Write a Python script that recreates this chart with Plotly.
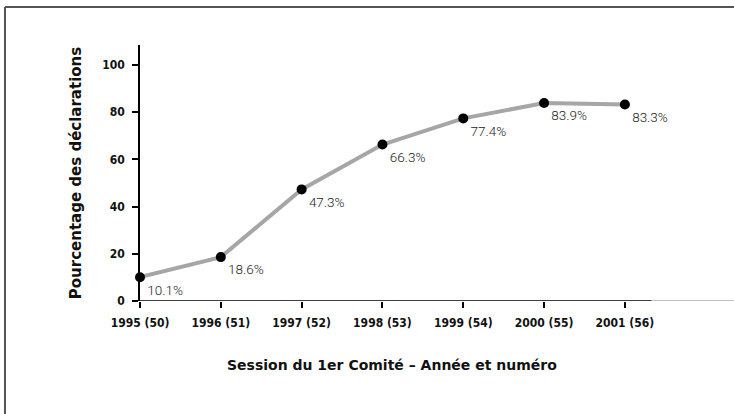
import plotly.graph_objects as go

categories = ["1995 (50)", "1996 (51)", "1997 (52)", "1998 (53)", "1999 (54)", "2000 (55)", "2001 (56)"]
values = [10.1, 18.6, 47.3, 66.3, 77.4, 83.9, 83.3]
y_ticks = [0, 20, 40, 60, 80, 100]

x_idx = list(range(len(categories)))
labels = [f"{v}%" for v in values]

fig = go.Figure()
fig.add_trace(go.Scatter(
    x=x_idx, y=values, mode="lines+markers+text",
    line=dict(color="#a6a6a6", width=4),
    marker=dict(color="black", size=10),
    text=labels, textposition="bottom right",
    textfont=dict(family="Roboto", size=13.5, color="#222222", weight=300),
    cliponaxis=False, showlegend=False, hoverinfo="skip",
))

tick_font = dict(family="DejaVu Sans Condensed", size=12, color="#111111", weight="bold")

fig.update_layout(
    width=734, height=414,
    margin=dict(l=140, r=0, t=45, b=113),
    paper_bgcolor="white", plot_bgcolor="white",
    xaxis=dict(
        range=[0, 7.35], tickvals=x_idx, ticktext=categories,
        showline=False, showgrid=False, zeroline=False,
        ticks="outside", ticklen=6, tickcolor="black", tickwidth=1.5,
        tickfont=tick_font, ticklabelstandoff=5,
    ),
    yaxis=dict(
        range=[0, 108.5], tickvals=y_ticks,
        showline=True, linecolor="black", linewidth=1.5,
        showgrid=False, zeroline=False,
        ticks="outside", ticklen=6, tickcolor="black", tickwidth=1.5,
        tickfont=tick_font, ticklabelstandoff=5,
        title=dict(text="Pourcentage des déclarations", standoff=17,
                   font=dict(family="DejaVu Sans", size=15, color="#111111", weight="bold")),
    ),
    shapes=[
        dict(type="line", xref="x", yref="y", x0=0, x1=6.33, y0=0, y1=0,
             line=dict(color="black", width=1.5), layer="below"),
        dict(type="line", xref="x", yref="y", x0=6.33, x1=7.4, y0=0, y1=0,
             line=dict(color="#888888", width=1.2), layer="below"),
        dict(type="line", xref="paper", yref="paper", x0=-0.2273, x1=1.1, y0=1.148, y1=1.148,
             line=dict(color="#555555", width=2)),
        dict(type="line", xref="paper", yref="paper", x0=-0.2273, x1=-0.2273, y0=1.148, y1=-1,
             line=dict(color="#555555", width=2)),
    ],
    annotations=[
        dict(text="Session du 1er Comité – Année et numéro", xref="paper", yref="paper",
             x=(392 - 140) / 594, y=(301 - 365) / 256, xanchor="center", yanchor="middle",
             showarrow=False,
             font=dict(family="DejaVu Sans", size=14, color="#111111", weight="bold")),
    ],
)

fig.write_html("out.html", config={"displayModeBar": False},
               post_script="document.body.style.margin='0';")
